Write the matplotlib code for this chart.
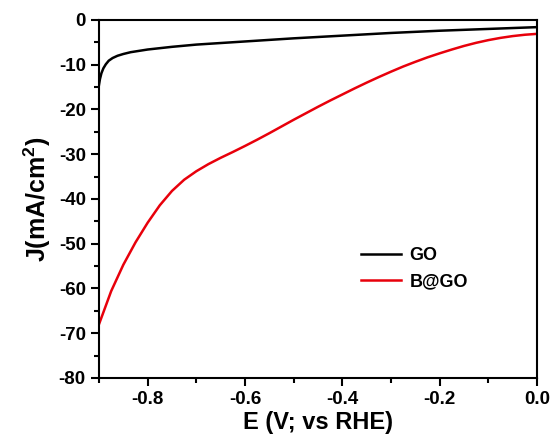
import matplotlib
matplotlib.use('Agg')
import matplotlib.pyplot as plt
from matplotlib.ticker import MultipleLocator

plt.rcParams['font.family'] = ['Liberation Sans', 'DejaVu Sans']
plt.rcParams['font.weight'] = 'bold'
plt.rcParams['mathtext.fontset'] = 'custom'
plt.rcParams['mathtext.rm'] = 'Liberation Sans'
plt.rcParams['mathtext.bf'] = 'Liberation Sans:bold'

# GO curve
go_e = [-0.900, -0.898, -0.895, -0.891, -0.886, -0.880, -0.872, -0.862, -0.850,
        -0.835, -0.80, -0.75, -0.70, -0.60, -0.50, -0.40, -0.30, -0.20, -0.10, 0.0]
go_j = [-14.5, -13.2, -11.9, -10.8, -9.9, -9.1, -8.5, -8.0, -7.6,
        -7.2, -6.6, -6.0, -5.5, -4.8, -4.1, -3.5, -2.9, -2.4, -2.0, -1.6]

# B@GO curve
bgo_e = [-0.900, -0.875, -0.850, -0.825, -0.800, -0.775, -0.750, -0.725, -0.700,
         -0.675, -0.650, -0.625, -0.600, -0.575, -0.550, -0.525, -0.500, -0.475,
         -0.450, -0.425, -0.400, -0.375, -0.350, -0.325, -0.300, -0.275, -0.250,
         -0.225, -0.200, -0.175, -0.150, -0.125, -0.100, -0.075, -0.050, -0.025, 0.0]
bgo_j = [-68.0, -60.6, -54.7, -49.7, -45.3, -41.4, -38.2, -35.7, -33.8,
         -32.2, -30.8, -29.5, -28.15, -26.75, -25.3, -23.8, -22.3, -20.85,
         -19.4, -18.0, -16.65, -15.3, -14.0, -12.75, -11.55, -10.4, -9.35,
         -8.35, -7.45, -6.6, -5.8, -5.1, -4.5, -4.0, -3.6, -3.3, -3.1]

fig = plt.figure(figsize=(5.58, 4.47), dpi=100)
ax = fig.add_axes([0.1774, 0.1544, 0.785, 0.8009])

ax.plot(go_e, go_j, color='black', lw=1.8, label='GO')
ax.plot(bgo_e, bgo_j, color='#e8000b', lw=1.8, label='B@GO')

ax.set_xlim(-0.9, 0.0)
ax.set_ylim(-80, 0)
ax.xaxis.set_minor_locator(MultipleLocator(0.1))
ax.yaxis.set_minor_locator(MultipleLocator(5))
ax.set_xticks([-0.8, -0.6, -0.4, -0.2, 0.0])
ax.set_xticklabels(['-0.8', '-0.6', '-0.4', '-0.2', '0.0'])
ax.set_yticks(range(-80, 1, 10))
ax.set_yticklabels([str(v) for v in range(-80, 1, 10)])

ax.tick_params(which='major', direction='out', length=6, width=1.5, labelsize=13.5)
ax.tick_params(which='minor', direction='out', length=3.5, width=1.5)
for s in ax.spines.values():
    s.set_linewidth(1.5)

ax.set_xlabel('E (V; vs RHE)', fontsize=17, fontweight='bold', labelpad=2)
ax.set_ylabel(r'$\mathbf{J}\mathrm{(}\mathbf{mA/cm}^{\mathrm{2}}\mathrm{)}$', fontsize=18, labelpad=4)

ax.legend(loc='lower right', bbox_to_anchor=(0.88, 0.20), frameon=False,
          fontsize=13, handlelength=2.2, handletextpad=0.5, labelspacing=0.5)

fig.savefig('out.png', dpi=100)
